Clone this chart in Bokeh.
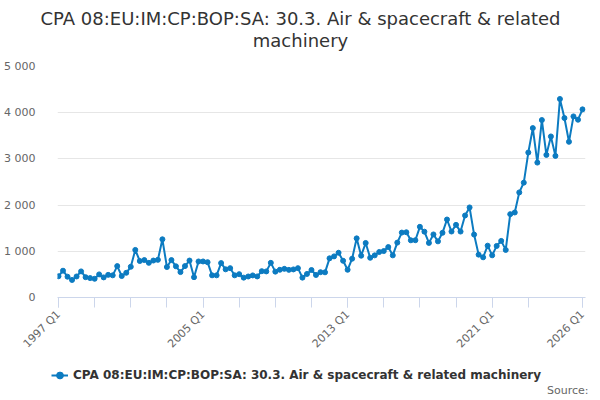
import math
from bokeh.plotting import figure
from bokeh.layouts import column
from bokeh.models import ColumnDataSource, Range1d, FixedTicker, Label, Legend, LegendItem
from bokeh.embed import file_html
from bokeh.resources import INLINE

# Quarter labels 1997 Q1 .. 2026 Q1
quarters = [f"{y} Q{q}" for y in range(1997, 2026) for q in range(1, 5)] + ["2026 Q1"]

# Values
values = [
    460, 580, 450, 380, 455, 565, 440, 420, 405, 500,
    435, 490, 480, 680, 465, 535, 665, 1030, 790, 810,
    750, 800, 815, 1260, 660, 810, 675, 550, 680, 800,
    440, 780, 780, 765, 480, 480, 745, 610, 635, 480,
    505, 430, 455, 478, 456, 570, 565, 750, 560, 600,
    620, 598, 608, 635, 430, 510, 595, 488, 548, 545,
    848, 890, 968, 795, 600, 840, 1280, 905, 1180, 860,
    912, 985, 1005, 1092, 912, 1188, 1405, 1412, 1238, 1240,
    1530, 1425, 1182, 1365, 1215, 1400, 1688, 1428, 1572, 1427,
    1775, 1950, 1362, 928, 870, 1122, 913, 1116, 1225, 1030,
    1804, 1840, 2275, 2486, 3138, 3667, 2920, 3841, 3087, 3486,
    3065, 4297, 3884, 3370, 3920, 3848, 4072,
]

series_name = "CPA 08:EU:IM:CP:BOP:SA: 30.3. Air & spacecraft & related machinery"
title_lines = ["CPA 08:EU:IM:CP:BOP:SA: 30.3. Air & spacecraft & related", "machinery"]
y_ticks = [0, 1000, 2000, 3000, 4000, 5000]
y_tick_labels = ["0", "1 000", "2 000", "3 000", "4 000", "5 000"]
x_label_quarters = ["1997 Q1", "2005 Q1", "2013 Q1", "2021 Q1", "2026 Q1"]

color = "#0c7bc1"
font = "DejaVu Sans"

source = ColumnDataSource(data=dict(x=list(range(len(values))), y=values))


def blank(height, y_top, y_bottom):
    # a figure whose frame fills the canvas, y data = minus page pixels
    f = figure(width=600, height=height, x_range=Range1d(0, 600),
               y_range=Range1d(-y_bottom, -y_top), x_axis_type=None, y_axis_type=None,
               toolbar_location=None, output_backend="svg", title=None,
               min_border=0, frame_align=False)
    f.outline_line_color = None
    f.grid.visible = False
    return f


# header with the two-line title
head = blank(56, 0, 56)
for txt, py in zip(title_lines, [17.5, 39.5]):
    head.add_layout(Label(x=300, y=-py, text=txt, text_align="center",
                          text_baseline="middle", text_font=font,
                          text_font_size="18px", text_color="#333333"))

# main chart
p = figure(width=600, height=302, x_range=Range1d(-0.22, len(quarters) - 1 + 0.66),
           y_range=Range1d(0, 5000), toolbar_location=None, output_backend="svg",
           title=None, min_border_left=57, min_border_right=15,
           min_border_top=10, min_border_bottom=61)
p.outline_line_color = None

p.line("x", "y", source=source, line_width=2, color=color)
p.scatter("x", "y", source=source, size=5, color=color)

label_idx = [quarters.index(q) for q in x_label_quarters]
p.xaxis.ticker = FixedTicker(ticks=label_idx, minor_ticks=list(range(0, 105, 8)) + [116])
p.xaxis.major_label_overrides = {i: quarters[i] for i in label_idx}
p.xaxis.major_label_orientation = math.pi / 4
p.xaxis.axis_line_color = "#ccd6eb"
p.xaxis.major_tick_line_color = "#ccd6eb"
p.xaxis.minor_tick_line_color = "#ccd6eb"
p.xaxis.major_tick_in = 0
p.xaxis.major_tick_out = 10
p.xaxis.minor_tick_in = 0
p.xaxis.minor_tick_out = 10
p.xaxis.major_label_standoff = 5
p.xaxis.major_label_text_font = font
p.xaxis.major_label_text_font_size = "11px"
p.xaxis.major_label_text_color = "#666666"

p.yaxis.ticker = FixedTicker(ticks=y_ticks)
p.yaxis.major_label_overrides = dict(zip(y_ticks, y_tick_labels))
p.yaxis.axis_line_color = None
p.yaxis.major_tick_line_color = None
p.yaxis.minor_tick_line_color = None
p.yaxis.major_label_standoff = 16
p.yaxis.major_label_text_font = font
p.yaxis.major_label_text_font_size = "11px"
p.yaxis.major_label_text_color = "#666666"

p.xgrid.visible = False
p.ygrid.ticker = FixedTicker(ticks=y_ticks)
p.ygrid.grid_line_color = "#e6e6e6"

# footer with legend and source (series drawn here only to feed the legend,
# it lies outside this footer's ranges)
foot = blank(42, 358, 400)
lg_line = foot.line("x", "y", source=source, line_width=2, color=color)
lg_pts = foot.scatter("x", "y", source=source, size=5, color=color)
legend = Legend(items=[LegendItem(label=series_name, renderers=[lg_line, lg_pts])],
                location=(51, 15), border_line_color=None, background_fill_alpha=0,
                padding=0, margin=0, glyph_width=17, label_standoff=5,
                label_text_font=font, label_text_font_style="bold",
                label_text_font_size="12px", label_text_color="#333333")
foot.add_layout(legend)
foot.add_layout(Label(x=588, y=-390, text="Source:", text_align="right",
                      text_baseline="middle", text_font=font,
                      text_font_size="11px", text_color="#666666"))

layout = column(head, p, foot, spacing=0)
open("out.html", "w").write(file_html(layout, INLINE))
